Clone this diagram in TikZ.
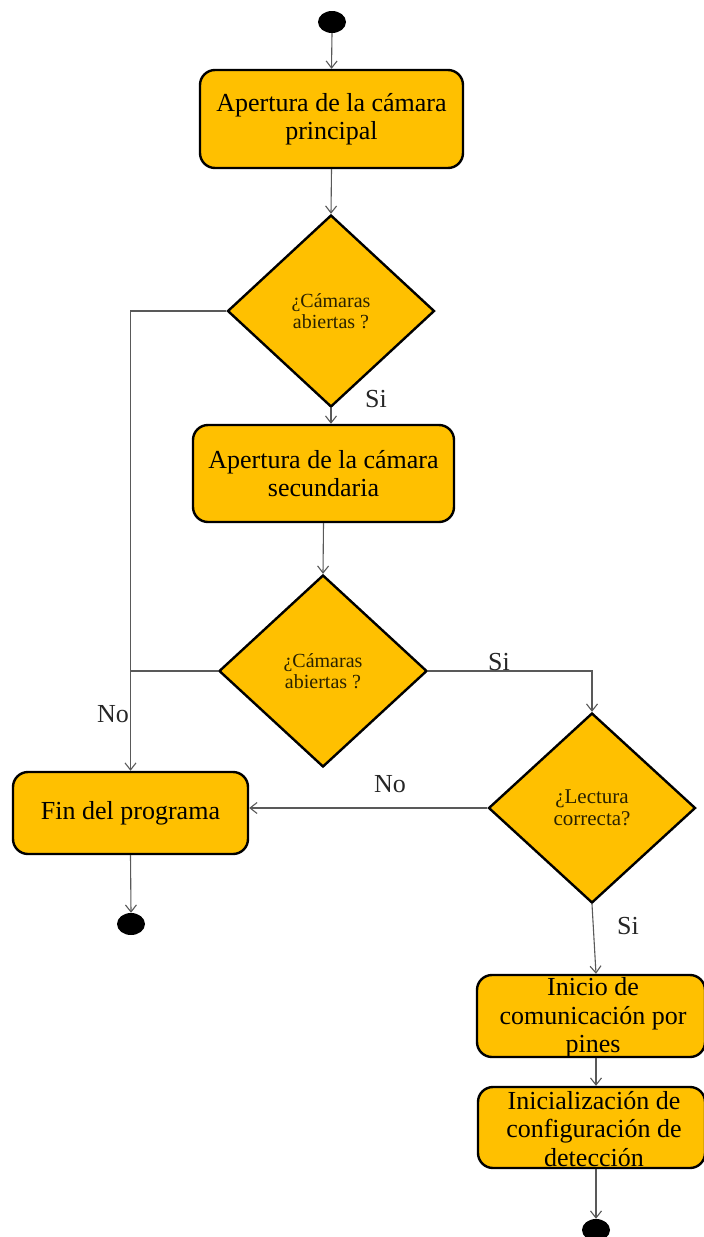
\documentclass[tikz,border=0pt]{standalone}
\usepackage{fontspec}
\setmainfont{Liberation Serif}
\usetikzlibrary{shapes.geometric,arrows.meta}
\definecolor{gold}{HTML}{FFC000}
\definecolor{wire}{HTML}{595959}
\definecolor{qtext}{HTML}{2A2200}
\begin{document}
\begin{tikzpicture}[x=1pt,y=-1pt,
  procbox/.style={draw=black,line width=2.4pt,fill=gold,rounded corners=15pt,
    inner sep=0pt,align=center,font=\fontsize{26}{28.5}\selectfont},
  boxtext/.style={inner sep=0pt,align=center,font=\fontsize{26}{28.5}\selectfont},
  decision/.style={diamond,draw=black,line width=2.4pt,fill=gold,inner sep=0pt,
    align=center,text=qtext,font=\fontsize{20}{21}\selectfont},
  terminal/.style={ellipse,fill=black,minimum width=28pt,minimum height=22pt,inner sep=0pt},
  flow/.style={draw=wire,line width=1.1pt,-{Straight Barb[length=7pt,width=11pt]}},
  plain/.style={draw=wire,line width=1.1pt},
  branch/.style={text=black!85,font=\fontsize{26}{28}\selectfont,inner sep=0pt}]
\useasboundingbox (0,0) rectangle (704,1237);

% start / end markers
\node[terminal] (start) at (332,22) {};
\node[terminal] (end1) at (131,924) {};
\node[terminal] (end2) at (596,1230) {};

% process boxes
\node[procbox,minimum width=263pt,minimum height=98pt] (cam1) at (331.5,119)
  {Apertura de la cámara\\principal};
\node[procbox,minimum width=261pt,minimum height=97pt] (cam2) at (323.5,473.5)
  {Apertura de la cámara\\secundaria};
\node[procbox,minimum width=235pt,minimum height=82pt] (fin) at (130.5,813)
  {Fin del programa};
\node[procbox,minimum width=228pt,minimum height=82pt] (pins) at (591,1016) {};
\node[boxtext] (pinsText) at (593,1018) {Inicio de\\comunicación por\\pines};
\node[procbox,minimum width=227pt,minimum height=81pt] (det) at (591.5,1127.5) {};
\node[boxtext] (detText) at (594,1129) {Inicialización de\\configuración de\\detección};

% decisions
\node[decision,minimum width=207pt,minimum height=192pt] (d1) at (331,311)
  {¿Cámaras\\abiertas ?};
\node[decision,minimum width=208pt,minimum height=192pt] (d2) at (323,671)
  {¿Cámaras\\abiertas ?};
\node[decision,minimum width=207pt,minimum height=190pt,
  font=\fontsize{21}{22.5}\selectfont] (d3) at (592,808)
  {¿Lectura\\correcta?};

% connectors
\draw[flow] (start.south) -- (cam1.north);
\draw[flow] (cam1.south) -- (d1.north);
\draw[flow] (d1.south) -- (d1.south |- cam2.north);
\draw[flow] (cam2.south) -- (d2.north);
\draw[flow] (d1.west) -| (fin.north);
\draw[plain] (d2.west) -- (d2.west -| fin.north);
\draw[flow] (d2.east) -| (d3.north);
\draw[flow] (d3.west) -- (d3.west -| fin.east);
\draw[flow] (fin.south) -- (end1.north);
\draw[flow] (d3.south) -- (pins.north -| end2.north);
\draw[flow] (pins.south -| end2.north) -- (det.north -| end2.north);
\draw[flow] (det.south -| end2.north) -- (end2.north);

% branch labels
\node[branch] (si1) at (376,399) {Si};
\node[branch] (no1) at (113,714) {No};
\node[branch] (si2) at (499,662) {Si};
\node[branch] (no2) at (390,784) {No};
\node[branch] (si3) at (628,926) {Si};
\end{tikzpicture}
\end{document}
